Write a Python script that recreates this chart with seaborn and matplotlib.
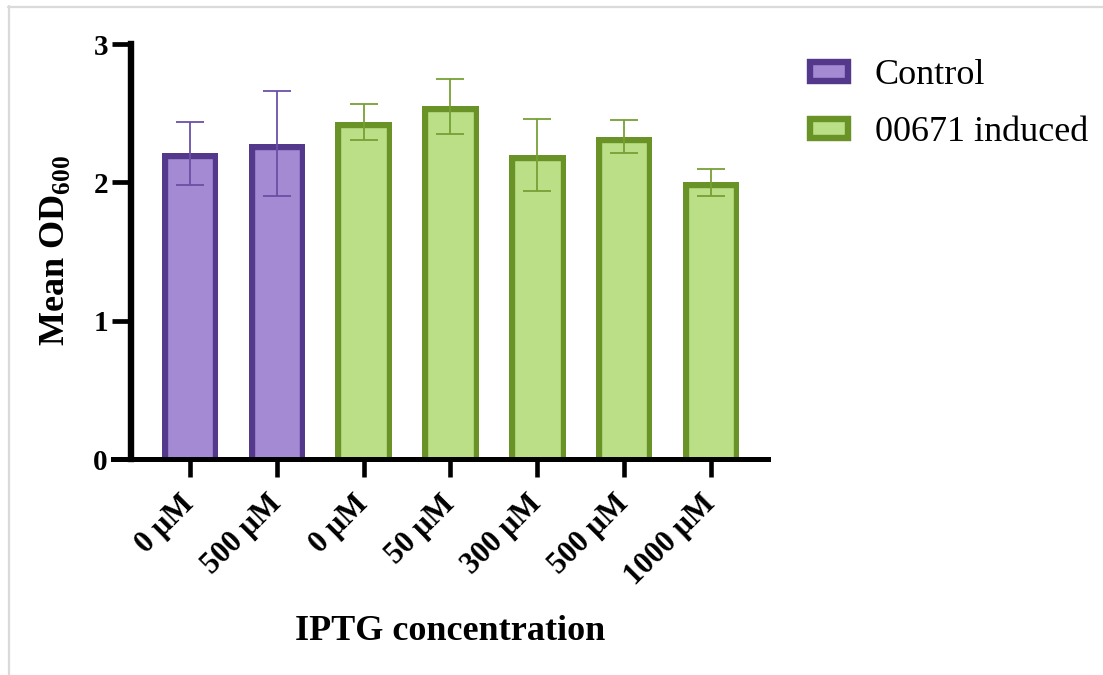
import matplotlib
matplotlib.use("Agg")
import matplotlib.pyplot as plt
from matplotlib.lines import Line2D
from matplotlib.patches import Patch
from matplotlib.transforms import TransformedPatchPath
import seaborn as sns
import pandas as pd

# Growth data: mean OD600 and standard deviation per IPTG concentration
groups = ["Control", "Control", "00671 induced", "00671 induced",
          "00671 induced", "00671 induced", "00671 induced"]
concentrations = ["0 µM", "500 µM", "0 µM", "50 µM", "300 µM", "500 µM", "1000 µM"]
mean_od = [2.21, 2.28, 2.44, 2.55, 2.20, 2.33, 2.00]
sd_od = [0.23, 0.38, 0.13, 0.20, 0.26, 0.12, 0.10]
y_ticks = [0, 1, 2, 3]

fill_colors = {"Control": "#A48AD2", "00671 induced": "#BBDF87"}
edge_colors = {"Control": "#53388C", "00671 induced": "#699227"}
err_colors = {"Control": "#6A50A6", "00671 induced": "#76A035"}

sns.set_style("white")
plt.rcParams["font.family"] = ["Liberation Serif", "DejaVu Serif"]
plt.rcParams["mathtext.fontset"] = "custom"
plt.rcParams["mathtext.rm"] = "Liberation Serif"
plt.rcParams["mathtext.bf"] = "Liberation Serif:bold"
plt.rcParams["text.color"] = "black"
plt.rcParams["axes.labelcolor"] = "black"
plt.rcParams["xtick.color"] = "black"
plt.rcParams["ytick.color"] = "black"

df = pd.DataFrame({
    "key": [f"{g}|{c}" for g, c in zip(groups, concentrations)],
    "group": groups,
    "mean": mean_od,
})

fig = plt.figure(figsize=(11.03, 6.75), dpi=100)
ax = fig.add_axes([0.10245, 0.3193, 0.5938, 0.6155])

sns.barplot(data=df, x="key", y="mean", hue="group", palette=fill_colors,
            dodge=False, width=0.651, errorbar=None, legend=False, ax=ax,
            saturation=1)

# outline drawn on the inside of each bar, base tucked under the axis line
for p in ax.patches:
    cx = p.get_x() + p.get_width() / 2
    idx = int(round(cx))
    g = groups[idx]
    p.set_edgecolor(edge_colors[g])
    p.set_facecolor(fill_colors[g])
    p.set_linewidth(8.2)
    top = p.get_y() + p.get_height()
    p.set_y(-0.1)
    p.set_height(top + 0.1)
    p.set_clip_path(TransformedPatchPath(p))
    p.set_clip_box(ax.bbox)
    p.set_zorder(2)

for i, (m, s, g) in enumerate(zip(mean_od, sd_od, groups)):
    ax.errorbar(i, m, yerr=s, fmt="none", ecolor=err_colors[g],
                elinewidth=1.3, capsize=10.4, capthick=1.3, zorder=3)

for side in ["top", "right"]:
    ax.spines[side].set_visible(False)
ax.spines["left"].set_position(("data", -0.674))
ax.spines["left"].set_linewidth(4.6)
ax.spines["bottom"].set_linewidth(3.6)
ax.spines["left"].set_color("black")
ax.spines["bottom"].set_color("black")
ax.spines["left"].set_zorder(4)
ax.spines["bottom"].set_zorder(4)

ax.set_xlim(-0.887, 6.657)
ax.set_ylim(0, 3)
ax.set_yticks(y_ticks)
ax.set_yticklabels([str(t) for t in y_ticks], fontsize=21, fontweight="bold")
ax.set_xticks(range(len(concentrations)))
ax.set_xticklabels(concentrations, fontsize=22, fontweight="bold",
                   rotation=45, ha="right", va="center", rotation_mode="anchor")

ax.tick_params(axis="y", which="major", left=True, length=14, width=3.4,
               pad=3, color="black", labelcolor="black")
ax.tick_params(axis="x", which="major", bottom=True, length=13.3, width=3.3,
               pad=15.8, color="black", labelcolor="black")

ax.set_xlabel("IPTG concentration", fontsize=26, fontweight="bold")
ax.xaxis.set_label_coords(0.5145, -0.375)
ax.set_ylabel(r"Mean OD$_{\mathbf{600}}$", fontsize=26, fontweight="bold")
ax.yaxis.set_label_coords(-0.0626, 0.504)

handles = [Patch(facecolor=fill_colors[g], edgecolor=edge_colors[g], linewidth=4.6, label=g)
           for g in ["Control", "00671 induced"]]
fig.legend(handles=handles, loc="upper left", bbox_to_anchor=(0.734, 0.912),
           frameon=False, fontsize=26, handlelength=1.05, handleheight=0.42,
           handletextpad=0.75, labelspacing=0.66, borderpad=0, borderaxespad=0)

# light frame lines along the top and left edges
fig.add_artist(Line2D([8 / 1103, 1.0], [1 - 7 / 675, 1 - 7 / 675],
                      transform=fig.transFigure, color="#DADADA", linewidth=1.6))
fig.add_artist(Line2D([9 / 1103, 9 / 1103], [0.0, 1 - 6 / 675],
                      transform=fig.transFigure, color="#DADADA", linewidth=1.6))

fig.savefig("out.png", dpi=100)
